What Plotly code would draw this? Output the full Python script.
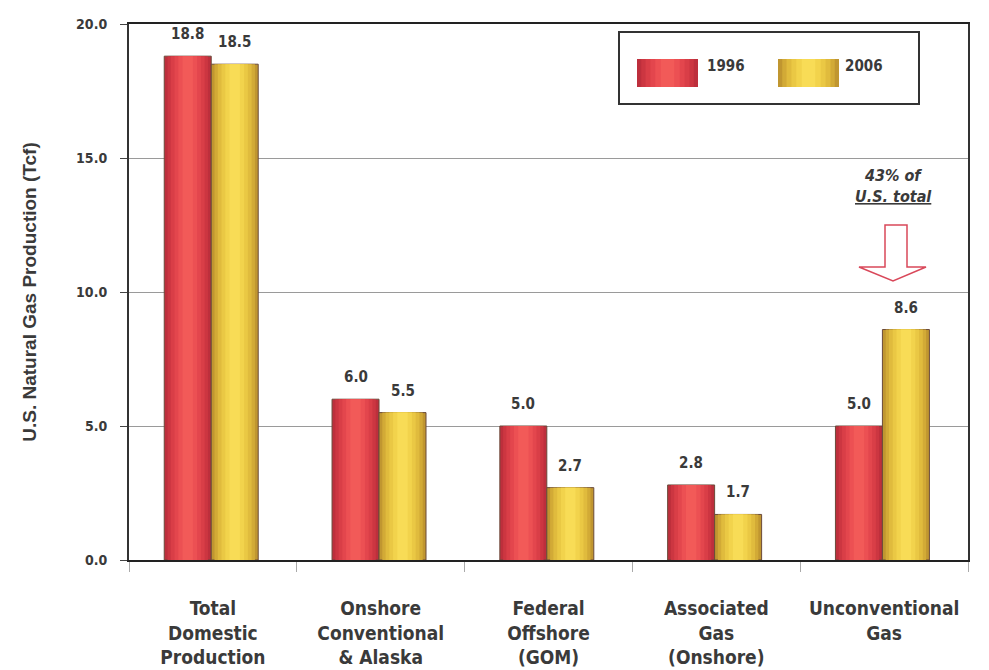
import plotly.graph_objects as go

categories = ["Total<br>Domestic<br>Production", "Onshore<br>Conventional<br>& Alaska",
              "Federal<br>Offshore<br>(GOM)", "Associated<br>Gas<br>(Onshore)",
              "Unconventional<br>Gas"]
values_1996 = [18.8, 6.0, 5.0, 2.8, 5.0]
values_2006 = [18.5, 5.5, 2.7, 1.7, 8.6]
series_names = ["1996", "2006"]
y_ticks = [0, 5, 10, 15, 20]
y_tick_labels = ["0.0", "5.0", "10.0", "15.0", "20.0"]

NARROW = "Liberation Sans Narrow, Arial Narrow, DejaVu Sans Condensed, sans-serif"
TXT = "#3a3a3a"

red_layers = ["#bd2f3c", "#cc3641", "#d93e47", "#e3464d", "#ec5053", "#f25a58"]
yel_layers = ["#c09630", "#d2aa36", "#e0bb3d", "#eac844", "#f2d34c", "#f8dc56"]
fracs = [1.0, 0.86, 0.72, 0.56, 0.4, 0.22]

W = 0.28
offsets = [-0.29, -0.01]

fig = go.Figure()
for vals, cols, off, name in [(values_1996, red_layers, offsets[0], series_names[0]),
                              (values_2006, yel_layers, offsets[1], series_names[1])]:
    for i, (f, c) in enumerate(zip(fracs, cols)):
        w = W * f
        o = off + (W - w) / 2
        fig.add_trace(go.Bar(
            x=categories, y=vals, name=name, width=[w] * len(vals), offset=[o] * len(vals),
            marker=dict(color=c, line=dict(color="#6a4a3a" if i == 0 else c, width=1 if i == 0 else 0)),
            showlegend=False, hoverinfo="skip" if i else None))

BOLD = dict(family=NARROW, color=TXT, weight="bold")

# value labels
for vals, off in [(values_1996, offsets[0]), (values_2006, offsets[1])]:
    for cat, v in zip(categories, vals):
        fig.add_annotation(x=cat, y=v, text=f"{v:.1f}", showarrow=False, xref="x", yref="y",
                           xshift=(off + W / 2) * 168, yshift=22, yanchor="middle", xanchor="center",
                           font=dict(size=15, **BOLD))

# legend (manual)
def px_x(p):
    return (p - 129) / 839

def px_y(p):
    return (560 - p) / 536

shapes = [dict(type="rect", xref="paper", yref="paper", x0=px_x(619), x1=px_x(919), y0=px_y(104), y1=px_y(32),
               line=dict(color="#333", width=2), fillcolor="white", layer="above")]
for x0, cols in [(637, red_layers), (778, yel_layers)]:
    for f, c in zip(fracs, cols):
        w = 61 * f
        a = x0 + (61 - w) / 2
        shapes.append(dict(type="rect", xref="paper", yref="paper", x0=px_x(a), x1=px_x(a + w),
                           y0=px_y(87), y1=px_y(59), line=dict(width=0), fillcolor=c, layer="above"))
fig.add_annotation(xref="paper", yref="paper", x=px_x(705), y=px_y(66), text=series_names[0],
                   showarrow=False, xanchor="left", yanchor="middle", font=dict(size=15, **BOLD))
fig.add_annotation(xref="paper", yref="paper", x=px_x(843), y=px_y(66), text=series_names[1],
                   showarrow=False, xanchor="left", yanchor="middle", font=dict(size=15, **BOLD))

# hollow arrow
sl, sr, top, neck, hl, hr, tipx, tipy = 885, 907, 225, 267, 859, 926, 893, 281
path = (f"M {px_x(sl)},{px_y(top)} L {px_x(sr)},{px_y(top)} L {px_x(sr)},{px_y(neck)} "
        f"L {px_x(hr)},{px_y(neck)} L {px_x(tipx)},{px_y(tipy)} L {px_x(hl)},{px_y(neck)} "
        f"L {px_x(sl)},{px_y(neck)} Z")
shapes.append(dict(type="path", xref="paper", yref="paper", path=path,
                   line=dict(color="#d9485a", width=1.5), fillcolor="white", layer="above"))
fig.add_annotation(xref="paper", yref="paper", x=px_x(893), y=px_y(175), text="<i>43% of</i>",
                   showarrow=False, xanchor="center", yanchor="middle", font=dict(size=16, **BOLD))
fig.add_annotation(xref="paper", yref="paper", x=px_x(893), y=px_y(197), text="<i><u>U.S. total</u></i>",
                   showarrow=False, xanchor="center", yanchor="middle", font=dict(size=16, **BOLD))

fig.update_layout(
    width=989, height=670, margin=dict(l=129, r=21, t=24, b=110, autoexpand=False),
    paper_bgcolor="white", plot_bgcolor="white", barmode="overlay", showlegend=False,
    shapes=shapes,
    xaxis=dict(type="category", categoryorder="array", categoryarray=categories, automargin=False,
               tickson="boundaries", ticks="outside", ticklen=10, tickcolor="#aaaaaa", tickwidth=1,
               showline=True, linecolor="#222", linewidth=2, mirror=True, showgrid=False,
               tickfont=dict(size=19, **BOLD), ticklabelstandoff=30),
    yaxis=dict(range=[0, 20], tickvals=y_ticks, ticktext=y_tick_labels, ticks="outside", ticklen=7,
               automargin=False,
               tickcolor="#444", showline=True, linecolor="#333", linewidth=2, mirror=True,
               showgrid=True, gridcolor="#9a9a9a", gridwidth=1, zeroline=False,
               tickfont=dict(size=14, **BOLD), ticklabelstandoff=10,
               title=dict(text="U.S. Natural Gas Production (Tcf)", standoff=34,
                          font=dict(family="Liberation Sans, Arial, sans-serif", size=19, color=TXT,
                                    weight="bold"))),
)
fig.write_html("out.html")
